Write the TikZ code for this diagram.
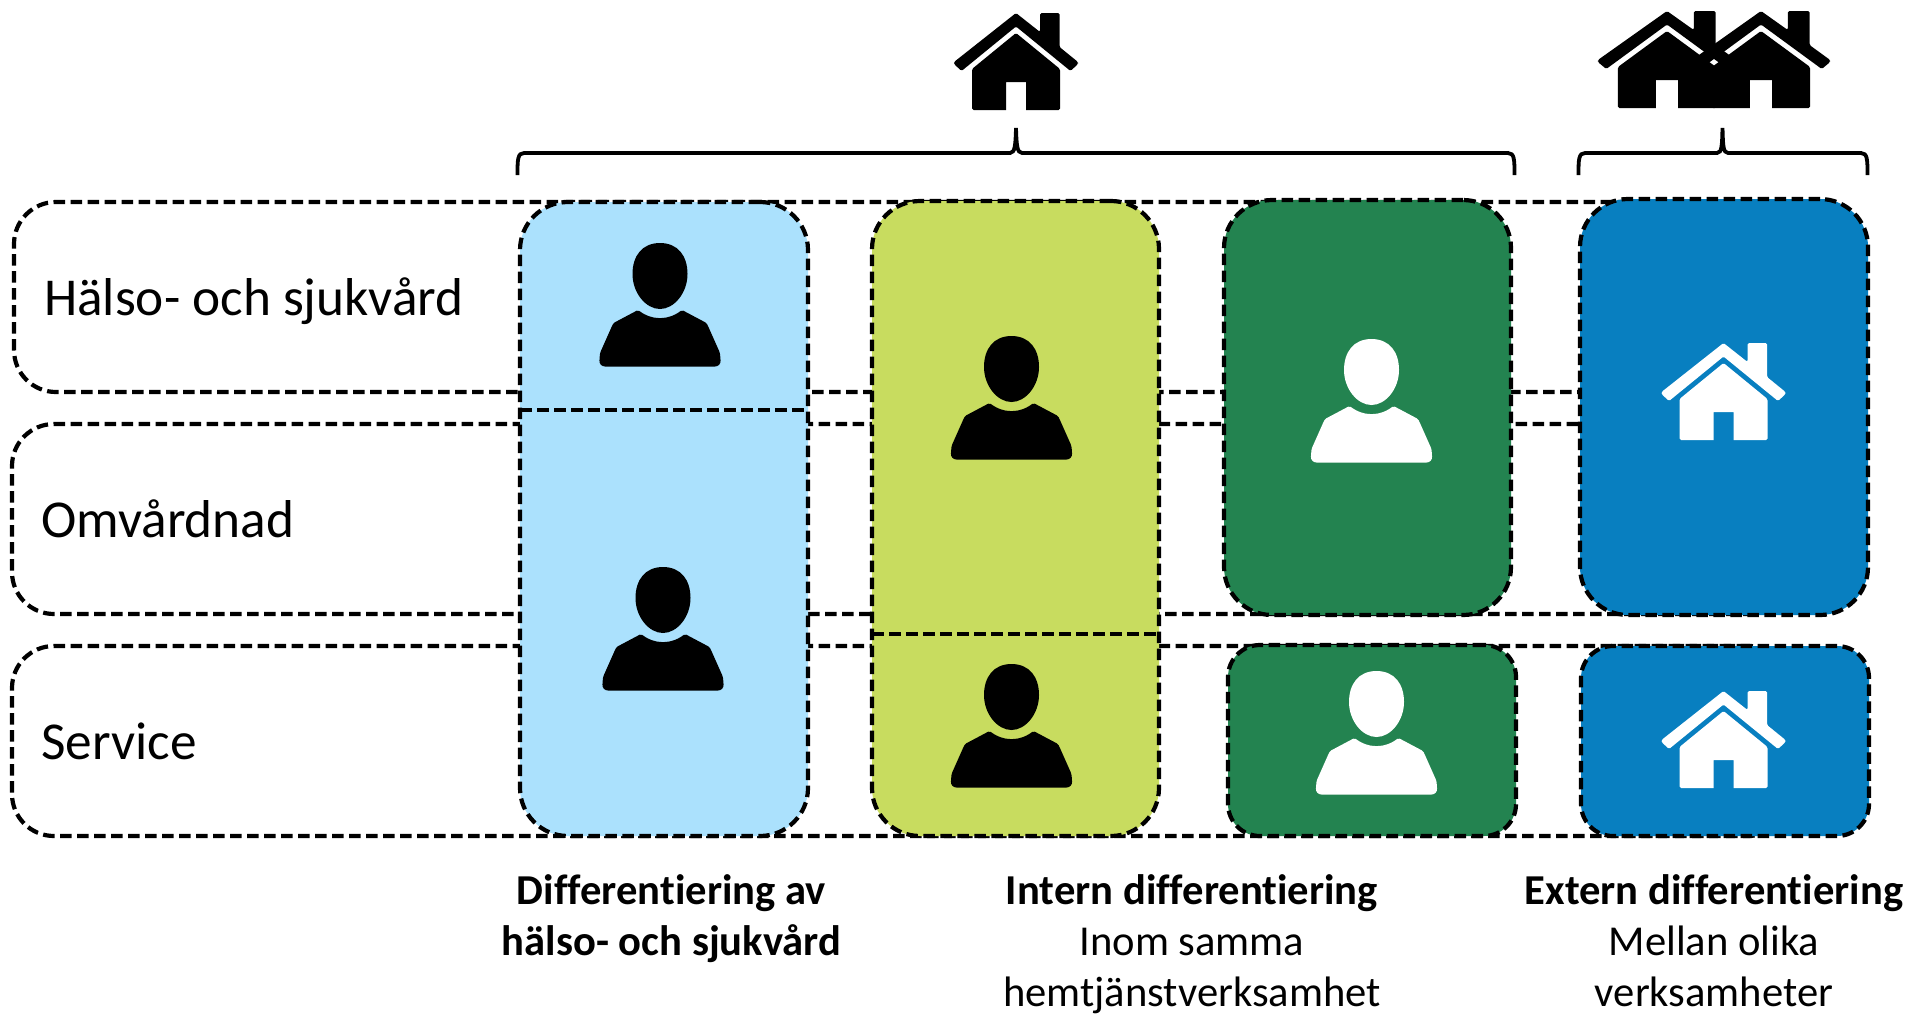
\documentclass[tikz,border=0pt]{standalone}
\usepackage{fontspec}
\setmainfont[RawFeature={-liga;-clig;-dlig}]{Carlito}
\definecolor{cLight}{HTML}{ABE1FD}
\definecolor{cLime}{HTML}{C8DC5F}
\definecolor{cGreen}{HTML}{238350}
\definecolor{cBlue}{HTML}{087FC0}
\tikzset{
  x=1pt,y=-1pt,
  dashline/.style={draw=black,line width=4.2pt,dash pattern=on 11.5pt off 5.5pt},
  rowbox/.style={dashline,rounded corners=42pt,inner sep=0pt,outer sep=0pt},
  colbox/.style={dashline,rounded corners=48pt,inner sep=0pt,outer sep=0pt},
  smallbox/.style={dashline,rounded corners=32pt,inner sep=0pt,outer sep=0pt},
  rowlabel/.style={font=\fontsize{53.3}{56}\selectfont,anchor=base west,inner sep=0pt},
  caption/.style={font=\fontsize{42.6}{51}\selectfont,align=center,anchor=north,inner sep=0pt},
  bracket/.style={draw=black,line width=3.8pt},
  pics/house/.style={code={
    \fill[rounded corners=1.5pt] (0,0) -- (24,19) -- (24,0) -- (43.5,0) -- (43.5,34) -- (62,49) -- (62,51) -- (54.5,58) -- (0,13.5) -- (-54.5,58) -- (-62,51) -- (-62,49) -- cycle;
    \fill[rounded corners=1.5pt] (0,20) -- (44,56) -- (44,97) [sharp corners] -- (10,97) -- (10,69) -- (-10,69) -- (-10,97) [rounded corners=1.5pt] -- (-44,97) -- (-44,56) -- cycle;
  }},
  pics/person/.style={code={
    \fill (0,0) .. controls (18,0) and (27.5,13) .. (27.5,31) .. controls (27.5,50) and (14,66) .. (0,66) .. controls (-14,66) and (-27.5,50) .. (-27.5,31) .. controls (-27.5,13) and (-18,0) .. (0,0) -- cycle;
    \fill[rounded corners=1.5pt] (-22,67) .. controls (-14,73) and (-7,75) .. (0,75) .. controls (7,75) and (14,73) .. (22,67) -- (46.5,80) -- (48,83) -- (60,110) [rounded corners=6pt] -- (61,123.5) -- (-61,123.5) [rounded corners=1.5pt] -- (-60,110) -- (-48,83) -- (-46.5,80) -- cycle;
  }},
}
\begin{document}
\begin{tikzpicture}
\useasboundingbox (0,0) rectangle (1911,1015);
% row bands
\node[rowbox,minimum width=1776pt,minimum height=190pt] (rowA) at (902,297) {};
\node[rowbox,minimum width=1778pt,minimum height=190pt] (rowB) at (901,519) {};
\node[rowbox,minimum width=1778pt,minimum height=190pt] (rowC) at (901,741) {};
% columns
\node[colbox,fill=cLight,minimum width=288pt,minimum height=634pt] (colLight) at (664,519) {};
\node[colbox,fill=cLime,minimum width=287pt,minimum height=635pt] (colLime) at (1015.5,518.5) {};
\node[colbox,fill=cGreen,minimum width=287pt,minimum height=415pt] (colGreenA) at (1367.5,407.5) {};
\node[smallbox,fill=cGreen,minimum width=288pt,minimum height=191pt] (colGreenB) at (1372,740.5) {};
\node[colbox,fill=cBlue,minimum width=288pt,minimum height=416pt] (colBlueA) at (1724,407) {};
\node[smallbox,fill=cBlue,minimum width=288pt,minimum height=190pt] (colBlueB) at (1725,741) {};
% dividers
\coordinate (divL) at (520,410);
\coordinate (divR) at (808,410);
\draw[dashline] (divL) -- (divR);
\coordinate (divM) at (872,634);
\coordinate (divN) at (1159,634);
\draw[dashline] (divM) -- (divN);
% persons
\pic[black] at (660,243) {person};
\pic[black] at (663,567) {person};
\pic[black] at (1011.5,336) {person};
\pic[black] at (1011.5,664) {person};
\pic[white] at (1371.5,339) {person};
\pic[white] at (1376.5,671) {person};
% white houses
\pic[white] at (1723.5,343) {house};
\pic[white] at (1723.5,691) {house};
% top houses
\pic[black] at (1016,13) {house};
\pic[black,xscale=1.115] at (1667,11) {house};
\pic[black,xscale=1.115] at (1761,11) {house};
% brackets
\coordinate (bA1) at (517.5,175);
\coordinate (bA2) at (1016,128);
\coordinate (bA3) at (1514.5,175);
\draw[bracket] (bA1) .. controls (517.5,160) and (517.5,153) .. (524,153) -- (1010,153) .. controls (1015,153) and (1015.5,145) .. (bA2) .. controls (1016.5,145) and (1017,153) .. (1022,153) -- (1508,153) .. controls (1514.5,153) and (1514.5,160) .. (bA3);
\coordinate (bB1) at (1578.5,175);
\coordinate (bB2) at (1722.5,128);
\coordinate (bB3) at (1867.5,175);
\draw[bracket] (bB1) .. controls (1578.5,160) and (1578.5,153) .. (1585,153) -- (1717,153) .. controls (1722,153) and (1722,145) .. (bB2) .. controls (1723,145) and (1723,153) .. (1728,153) -- (1861,153) .. controls (1867.5,153) and (1867.5,160) .. (bB3);
% labels
\node[rowlabel] (lblA) at (44,315) {Hälso- och sjukvård};
\node[rowlabel] (lblB) at (41,537) {Omvårdnad};
\node[rowlabel] (lblC) at (41,759) {Service};
\node[caption] (capA) at (671.5,874) {\textbf{Differentiering av}\\\textbf{hälso- och sjukvård}};
\node[caption] (capB) at (1192,874) {\textbf{Intern differentiering}\\Inom samma\\hemtjänstverksamhet};
\node[caption] (capC) at (1714,874) {\textbf{Extern differentiering}\\Mellan olika\\verksamheter};
\end{tikzpicture}
\end{document}
